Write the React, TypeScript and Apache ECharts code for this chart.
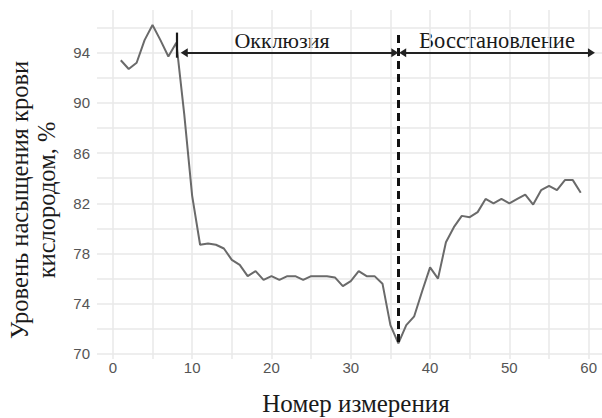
import React, { useEffect, useRef } from "react";
import * as echarts from "echarts";

// Measurement number and blood oxygen saturation (%)
const measurement = [
  1, 2, 3, 4, 5, 6, 7, 8, 9, 10, 11, 12, 13, 14, 15, 16, 17, 18, 19, 20,
  21, 22, 23, 24, 25, 26, 27, 28, 29, 30, 31, 32, 33, 34, 35, 36, 37, 38, 39, 40,
  41, 42, 43, 44, 45, 46, 47, 48, 49, 50, 51, 52, 53, 54, 55, 56, 57, 58, 59,
];
const saturation = [
  93.4, 92.7, 93.2, 95.0, 96.2, 95.0, 93.7, 94.8, 89.1, 82.6,
  78.7, 78.8, 78.7, 78.4, 77.5, 77.1, 76.2, 76.6, 75.9, 76.2,
  75.9, 76.2, 76.2, 75.9, 76.2, 76.2, 76.2, 76.1, 75.4, 75.8,
  76.6, 76.2, 76.2, 75.6, 72.3, 70.85, 72.3, 73.0, 75.0, 76.9,
  76.0, 78.9, 80.1, 81.0, 80.9, 81.3, 82.35, 82.0, 82.35, 82.0,
  82.35, 82.7, 81.9, 83.05, 83.4, 83.05, 83.85, 83.85, 82.85,
];

// Axis ticks: labelled values and grid-line values
const xLabelTicks = [0, 10, 20, 30, 40, 50, 60];
const xGridTicks = [0, 5, 10, 15, 20, 25, 30, 35, 40, 45, 50, 55, 60];
const yLabelTicks = [70, 74, 78, 82, 86, 90, 94];
const yGridTicks = [70, 72, 74, 76, 78, 80, 82, 84, 86, 88, 90, 92, 94, 96];

// Phase boundaries (measurement numbers) and arrow level
const occlusionStart = 8;
const recoveryStart = 36;
const recoveryEnd = 60.8;
const arrowLevel = 94;
const phaseLabels = ["Окклюзия", "Восстановление"];

const SERIF = "'Liberation Serif', 'DejaVu Serif', serif";
const SANS = "'Liberation Sans', Arial, sans-serif";

export default function App() {
  const ref = useRef<HTMLDivElement>(null);

  useEffect(() => {
    if (!ref.current) return;
    const chart = echarts.init(ref.current, null, { renderer: "svg" });

    const points = measurement.map((m, i) => [m, saturation[i]]);
    const minIndex = saturation.indexOf(Math.min(...saturation));
    const arrowHalf = 0.45;

    chart.setOption({
      animation: false,
      backgroundColor: "#ffffff",
      grid: { left: 97, right: 0, top: 10, bottom: 59, containLabel: false },
      xAxis: {
        type: "value",
        min: -2,
        max: 61.68,
        axisLine: { show: false },
        axisTick: { show: false, customValues: xGridTicks },
        axisLabel: {
          customValues: xLabelTicks,
          color: "#555555",
          fontFamily: SANS,
          fontSize: 15,
          margin: 1,
        },
        splitLine: { show: true, lineStyle: { color: "#e9e9e9", width: 1.5 } },
      },
      yAxis: {
        type: "value",
        min: 69.6,
        max: 97.4,
        axisLine: { show: false },
        axisTick: { show: false, customValues: yGridTicks },
        axisLabel: {
          customValues: yLabelTicks,
          color: "#555555",
          fontFamily: SANS,
          fontSize: 15,
          margin: 7,
        },
        splitLine: { show: true, lineStyle: { color: "#e9e9e9", width: 1.5 } },
      },
      series: [
        {
          type: "line",
          data: points,
          symbol: "none",
          lineStyle: { color: "#6a6a6a", width: 2 },
          z: 3,
          markLine: {
            silent: true,
            symbol: "none",
            label: { show: false },
            data: [
              [
                { coord: [occlusionStart, 95.6], lineStyle: { color: "#1a1a1a", width: 2.2, type: "solid" } },
                { coord: [occlusionStart, 93.6] },
              ],
              [
                { coord: [recoveryStart, 95.4], lineStyle: { color: "#111111", width: 3, type: [8, 5] } },
                { coord: [recoveryStart, saturation[minIndex]] },
              ],
              [
                {
                  coord: [occlusionStart + 1.0, arrowLevel],
                  symbol: "triangle",
                  lineStyle: { color: "#222222", width: 2, type: "solid" },
                },
                { coord: [recoveryStart - arrowHalf, arrowLevel], symbol: "triangle" },
              ],
              [
                {
                  coord: [recoveryStart + arrowHalf + 0.1, arrowLevel],
                  symbol: "triangle",
                  lineStyle: { color: "#222222", width: 2, type: "solid" },
                },
                { coord: [recoveryEnd - arrowHalf, arrowLevel], symbol: "triangle" },
              ],
            ],
            symbolSize: [9, 7],
          },
        },
      ],
      graphic: [
        {
          type: "text",
          x: 282,
          y: 40,
          style: {
            text: phaseLabels[0],
            font: `22px ${SERIF}`,
            fill: "#1a1a1a",
            align: "center",
            verticalAlign: "middle",
          },
        },
        {
          type: "text",
          x: 497,
          y: 40,
          style: {
            text: phaseLabels[1],
            font: `22.5px ${SERIF}`,
            fill: "#1a1a1a",
            align: "center",
            verticalAlign: "middle",
          },
        },
        {
          type: "text",
          x: 19,
          y: 200,
          rotation: Math.PI / 2,
          style: {
            text: "Уровень насыщения крови",
            font: `24.5px ${SERIF}`,
            fill: "#1a1a1a",
            align: "center",
            verticalAlign: "middle",
          },
        },
        {
          type: "text",
          x: 46,
          y: 200,
          rotation: Math.PI / 2,
          style: {
            text: "кислородом, %",
            font: `24.5px ${SERIF}`,
            fill: "#1a1a1a",
            align: "center",
            verticalAlign: "middle",
          },
        },
        {
          type: "text",
          x: 356,
          y: 403,
          style: {
            text: "Номер измерения",
            font: `25px ${SERIF}`,
            fill: "#1a1a1a",
            align: "center",
            verticalAlign: "middle",
          },
        },
      ],
    });

    return () => chart.dispose();
  }, []);

  return (
    <div
      ref={ref}
      style={{ position: "absolute", left: 0, top: 0, width: 602, height: 418 }}
    />
  );
}
